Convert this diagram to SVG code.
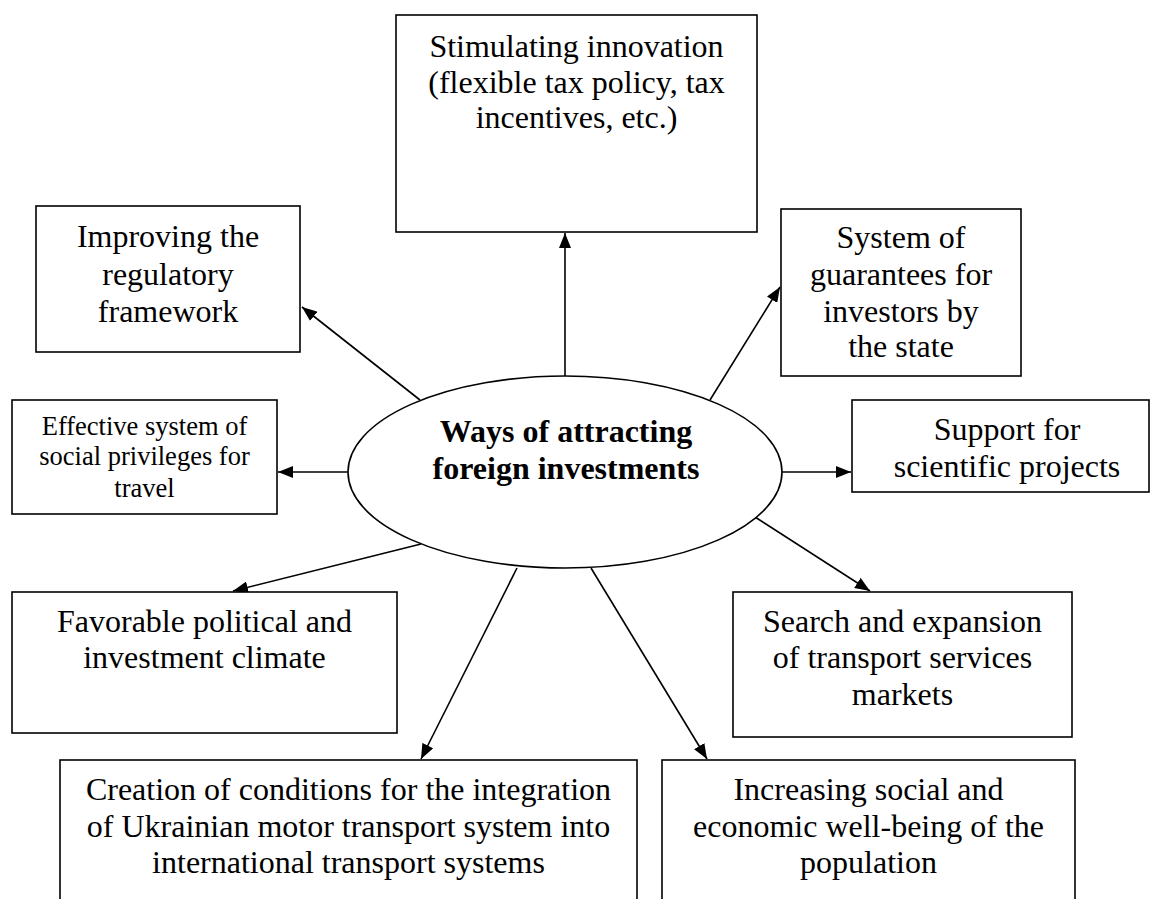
<svg xmlns="http://www.w3.org/2000/svg" width="1152" height="899" viewBox="0 0 1152 899">
<style>
.box{fill:#fff;stroke:#000;stroke-width:1.6}
.t{font-family:"Liberation Serif","Times New Roman",serif;font-size:32px;fill:#000;text-anchor:middle}
.s{font-size:26.5px}
.b{font-weight:bold}
.c{stroke:#000;stroke-width:1.6;fill:none;marker-end:url(#ah)}
</style>
<defs>
<marker id="ah" markerUnits="userSpaceOnUse" markerWidth="16" markerHeight="12" refX="15" refY="6" orient="auto">
<path d="M0,0 L15,6 L0,12 z" fill="#000"/>
</marker>
</defs>
<rect width="1152" height="899" fill="#fff"/>
<g id="connectors">
<line class="c" x1="565" y1="376" x2="565" y2="233"/>
<line class="c" x1="420" y1="400" x2="302" y2="307"/>
<line class="c" x1="710" y1="400" x2="780" y2="287"/>
<line class="c" x1="348" y1="472" x2="278" y2="472"/>
<line class="c" x1="782" y1="472" x2="851" y2="472"/>
<line class="c" x1="421" y1="544" x2="233" y2="591"/>
<line class="c" x1="755" y1="517" x2="870" y2="591"/>
<line class="c" x1="517" y1="568" x2="421" y2="759"/>
<line class="c" x1="591" y1="568" x2="707" y2="759"/>
</g>
<g id="center">
<ellipse cx="565" cy="472" rx="217" ry="96" fill="#fff" stroke="#000" stroke-width="1.6"/>
<text class="t b" x="566" y="442">Ways of attracting</text>
<text class="t b" x="566" y="479">foreign investments</text>
</g>
<g id="n-innovation">
<rect class="box" x="396" y="15" width="361" height="217"/>
<text class="t" x="576.5" y="57">Stimulating innovation</text>
<text class="t" x="576.5" y="93">(flexible tax policy, tax</text>
<text class="t" x="576.5" y="128">incentives, etc.)</text>
</g>
<g id="n-regulatory">
<rect class="box" x="36" y="206" width="264" height="146"/>
<text class="t" x="168" y="247">Improving the</text>
<text class="t" x="168" y="285">regulatory</text>
<text class="t" x="168" y="322">framework</text>
</g>
<g id="n-guarantees">
<rect class="box" x="781" y="209" width="240" height="167"/>
<text class="t" x="901" y="248">System of</text>
<text class="t" x="901" y="285">guarantees for</text>
<text class="t" x="901" y="322">investors by</text>
<text class="t" x="901" y="357">the state</text>
</g>
<g id="n-privileges">
<rect class="box" x="12" y="400" width="265" height="114"/>
<text class="t s" x="144.5" y="435">Effective system of</text>
<text class="t s" x="144.5" y="465">social privileges for</text>
<text class="t s" x="144.5" y="497">travel</text>
</g>
<g id="n-scientific">
<rect class="box" x="852" y="400" width="297" height="92"/>
<text class="t" x="1007" y="440">Support for</text>
<text class="t" x="1007" y="477">scientific projects</text>
</g>
<g id="n-climate">
<rect class="box" x="12" y="592" width="385" height="141"/>
<text class="t" x="204.5" y="632">Favorable political and</text>
<text class="t" x="204.5" y="668">investment climate</text>
</g>
<g id="n-markets">
<rect class="box" x="733" y="592" width="339" height="145"/>
<text class="t" x="902.5" y="632">Search and expansion</text>
<text class="t" x="902.5" y="668">of transport services</text>
<text class="t" x="902.5" y="705">markets</text>
</g>
<g id="n-integration">
<rect class="box" x="60" y="760" width="577" height="160"/>
<text class="t" x="348.5" y="800">Creation of conditions for the integration</text>
<text class="t" x="348.5" y="837">of Ukrainian motor transport system into</text>
<text class="t" x="348.5" y="873">international transport systems</text>
</g>
<g id="n-wellbeing">
<rect class="box" x="662" y="760" width="413" height="160"/>
<text class="t" x="868.5" y="800">Increasing social and</text>
<text class="t" x="868.5" y="837">economic well-being of the</text>
<text class="t" x="868.5" y="873">population</text>
</g>
</svg>
